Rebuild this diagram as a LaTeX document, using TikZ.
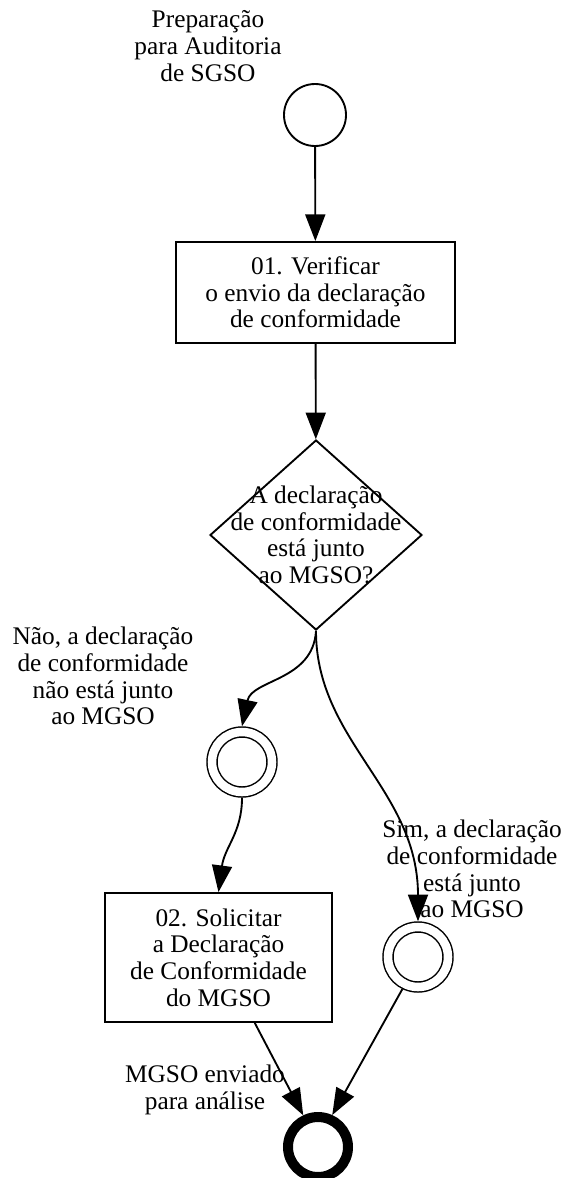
\documentclass[tikz,border=0pt]{standalone}
\usepackage{fontspec}
\setmainfont{Liberation Serif}
\usetikzlibrary{shapes.geometric, arrows.meta}
\tikzset{
	MyFont/.style={font=\fontsize{19}{20}\selectfont},
	MyTask/.style={draw,line width=1.4pt,inner sep=0pt,align=center,MyFont},
	MyGate/.style={diamond,draw,line width=1.4pt,inner sep=0pt,
    minimum width=159pt,minimum height=142.5pt},
	MyStart/.style={circle,draw,line width=1.4pt,inner sep=0pt,minimum size=46.5pt},
	MyInter/.style={circle,draw,line width=1.1pt,double,double distance=6.4pt,
    inner sep=0pt,minimum size=45pt,outer sep=4.3pt},
	MyEnd/.style={circle,draw,line width=7.5pt,inner sep=0pt,minimum size=45pt,
    outer sep=3.75pt},
	MyLabel/.style={align=center,inner sep=0pt,MyFont},
	MyArrow/.style={-{Triangle[length=20pt,width=15pt]},line width=1.4pt}
		}

\begin{document}
\begin{tikzpicture}[x=0.75pt,y=-0.75pt]% one unit = one pixel of the reference
  \useasboundingbox (0,0) rectangle (567,1178);

  % events and activities
  \node[MyStart] (start) at (315,115) {};
  \node[MyTask,minimum width=209.25pt,minimum height=75.75pt] (verificar)
    at (315.5,292.5) {01. Verificar\\o envio da declaração\\de conformidade};
  \node[MyGate,label={[MyLabel]center:A declaração\\de conformidade\\está junto\\ao MGSO?}]
    (gate) at (316,535) {};
  \node[MyInter] (naoev) at (242,762) {};
  \node[MyInter] (simev) at (418,957) {};
  \node[MyTask,minimum width=170.25pt,minimum height=96.75pt] (solicitar)
    at (218.5,957.5) {02. Solicitar\\a Declaração\\de Conformidade\\do MGSO};
  \node[MyEnd] (fim) at (318,1147) {};

  % texts beside the events
  \node[MyLabel] (startlbl) at (208,46) {Preparação\\para Auditoria\\de SGSO};
  \node[MyLabel] (naolbl) at (103,676) {Não, a declaração\\de conformidade\\não está junto\\ao MGSO};
  \node[MyLabel] (simlbl) at (472,869) {Sim, a declaração\\de conformidade\\está junto\\ao MGSO};
  \node[MyLabel] (fimlbl) at (205,1090) {MGSO enviado\\para análise};

  % flows
  \draw[MyArrow] (start) -- (verificar);
  \draw[MyArrow] (verificar) -- (gate);
  \draw[MyArrow] (gate.south) .. controls +(-3,50) and +(10,-47) .. (naoev.north);
  \draw[MyArrow] (gate.south) .. controls +(0,110) and +(0,-132) .. (simev.north);
  \draw[MyArrow] (naoev.south) .. controls +(0,35) and +(6,-45) .. (solicitar.north);
  \draw[MyArrow] (solicitar.-61) -- (fim.115);
  \draw[MyArrow] (simev.-116) -- (fim.66);
\end{tikzpicture}
\end{document}
